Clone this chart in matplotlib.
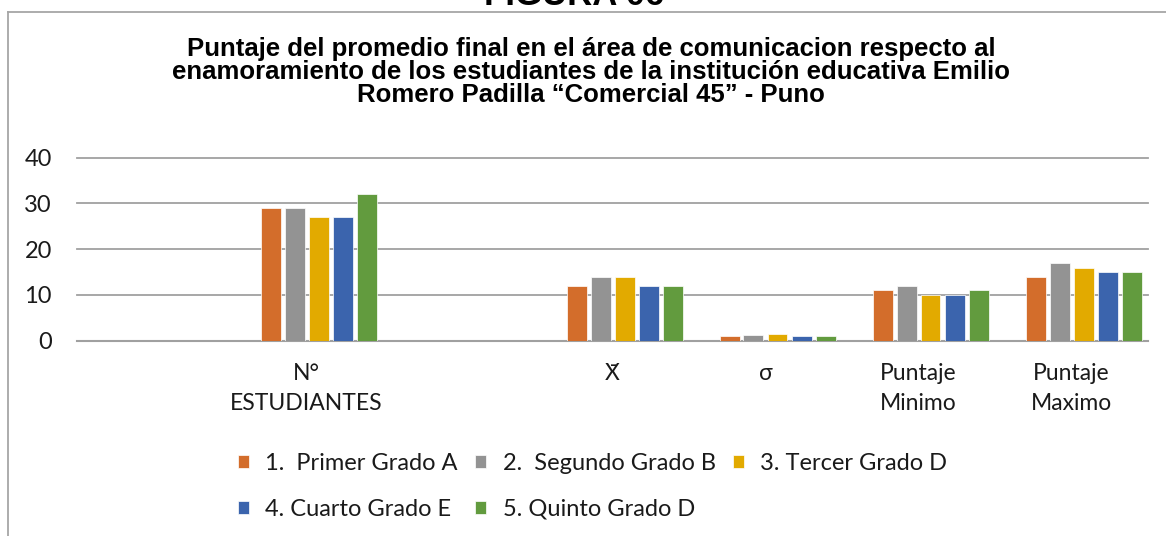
import numpy as np
import matplotlib
matplotlib.use("Agg")
import matplotlib.pyplot as plt
from matplotlib.lines import Line2D

# ---------------- data ----------------
categories = ["", "N°\nESTUDIANTES", "", "X\u0304", "σ", "Puntaje\nMinimo", "Puntaje\nMaximo"]
series_names = ["1.  Primer Grado A", "2.  Segundo Grado B", "3. Tercer Grado D",
                "4. Cuarto Grado E", "5. Quinto Grado D"]
nan = np.nan
primer = [nan, 29, nan, 12, 0.95, 11, 14]
segundo = [nan, 29, nan, 14, 1.25, 12, 17]
tercer = [nan, 27, nan, 14, 1.55, 10, 16]
cuarto = [nan, 27, nan, 12, 1.10, 10, 15]
quinto = [nan, 32, nan, 12, 1.00, 11, 15]
colors = ["#D36D2B", "#939393", "#E2AA00", "#3B64AD", "#629B3E"]
yticks = [0, 10, 20, 30, 40]
title = ("Puntaje del promedio final en el área de comunicacion respecto al\n"
         "enamoramiento de los estudiantes de la institución educativa Emilio\n"
         "Romero Padilla “Comercial 45” - Puno")
figure_label = "FIGURA 06"

# ---------------- layout ----------------
W, H = 1166, 536
fig = plt.figure(figsize=(W / 100, H / 100), dpi=100)
fig.patch.set_facecolor("white")

ax_left, ax_right, ax_bottom, ax_top = 77, 1148, 340.7, 157.7
ax = fig.add_axes([ax_left / W, 1 - ax_bottom / H,
                   (ax_right - ax_left) / W, (ax_bottom - ax_top) / H])

x = np.arange(len(categories))
slot = 24 / 153          # distance between neighbouring bars (category = 1)
bar_w = 20 / 153
all_series = [primer, segundo, tercer, cuarto, quinto]
# six slots per category in the source chart, the first one is empty
for i, (vals, name, c) in enumerate(zip(all_series, series_names, colors)):
    off = (i + 1 - 2.5) * slot
    v = np.array(vals, dtype=float)
    m = ~np.isnan(v)
    ax.bar(x[m] + off, v[m], width=bar_w, color=c, label=name,
           edgecolor="white", linewidth=0.5, zorder=3)

ax.set_xlim(-0.5, len(categories) - 0.5)
ax.set_ylim(0, 40)
ax.set_yticks(yticks)
ax.set_xticks(x)
ax.set_xticklabels(categories, fontsize=16.5, family=["Lato", "DejaVu Sans"],
                   color="#1a1a1a", linespacing=1.55, va="top")
for lab in ax.get_yticklabels():
    lab.set_fontsize(17)
    lab.set_family("Lato")
    lab.set_color("#1a1a1a")
ax.tick_params(axis="x", length=0, pad=16)
ax.tick_params(axis="y", length=0, pad=18)
ax.yaxis.grid(True, color="#a0a0a0", linewidth=1.3)
for gl in ax.get_ygridlines():
    gl.set_clip_on(False)
ax.set_axisbelow(True)
for s in ["top", "right", "left"]:
    ax.spines[s].set_visible(False)
ax.spines["bottom"].set_color("#a0a0a0")
ax.spines["bottom"].set_linewidth(1.5)
ax.set_facecolor("none")

# title and figure caption
fig.text(591 / W, 1 - 72 / H, title, ha="center", va="center",
         fontsize=18.5, fontweight="bold", family="Liberation Sans",
         linespacing=0.95, color="black")
fig.text(574.5 / W, 1 - 5 / H, figure_label, ha="center", va="baseline",
         fontsize=25, fontweight="bold", family="Liberation Sans", color="black")

# chart border (partially cropped in the source)
fig.add_artist(Line2D([7.5 / W, 7.5 / W], [0, 1 - 12 / H], color="#a6a6a6",
                      linewidth=1.3, transform=fig.transFigure))
fig.add_artist(Line2D([7.5 / W, 1], [1 - 12 / H, 1 - 12 / H], color="#a6a6a6",
                      linewidth=1.3, transform=fig.transFigure))

# legend (row-wise order: matplotlib fills columns first)
handles, labels = ax.get_legend_handles_labels()
order = [0, 3, 1, 4, 2]
leg = fig.legend([handles[k] for k in order], [labels[k] for k in order],
                 loc="upper left", bbox_to_anchor=(238 / W, 1 - 453 / H), ncol=3,
                 frameon=False, prop={"family": "Lato", "size": 17},
                 handlelength=0.45, handleheight=0.45, handletextpad=0.7,
                 columnspacing=0.75, labelspacing=1.05, borderpad=0, borderaxespad=0)
for t in leg.get_texts():
    t.set_color("#1a1a1a")

fig.savefig("out.png", dpi=100, facecolor="white")
